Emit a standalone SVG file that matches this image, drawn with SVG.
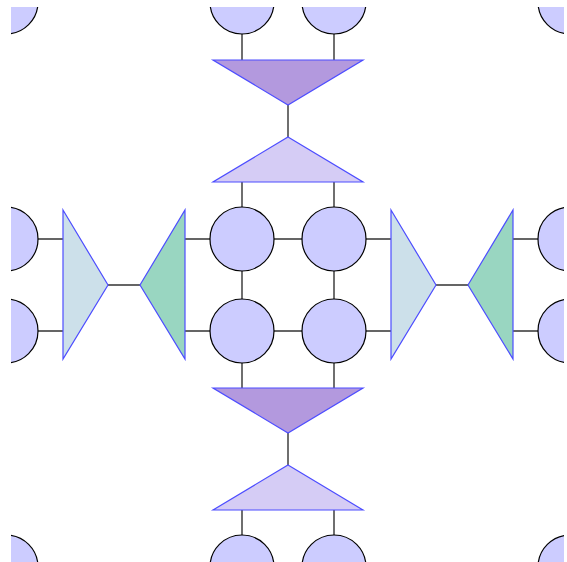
<svg xmlns="http://www.w3.org/2000/svg" width="567" height="562" viewBox="0 0 567 562">
<style>
.c{fill:#ccccff;stroke:#000;stroke-width:1.2}
.t{stroke:#4d4dff;stroke-width:1.2;stroke-linejoin:miter}
.dn{fill:#b399de}
.up{fill:#d5ccf5}
.rt{fill:#cce0ea}
.lf{fill:#99d6c1}
.e{stroke:#333;stroke-width:1.4;fill:none}
</style>
<defs>
<clipPath id="clip"><rect x="11" y="7" width="553" height="555"/></clipPath>
</defs>
<rect width="567" height="562" fill="#fff"/>
<g clip-path="url(#clip)">
<g id="edges">
<path class="e" d="M242 2V60M334 2V60M288 105V137M242 182V239M334 182V239"/>
<path class="e" d="M242 331V388M334 331V388M288 433V465M242 510V567M334 510V567"/>
<path class="e" d="M6 239H63M6 331H63M108 285H140M185 239H242M185 331H242"/>
<path class="e" d="M334 239H391M334 331H391M436 285H468M513 239H570M513 331H570"/>
<path class="e" d="M242 239H334M242 331H334M242 239V331M334 239V331"/>
</g>
<g id="n_tl"><circle class="c" cx="6" cy="2" r="32"/></g>
<g id="n_tr"><circle class="c" cx="570" cy="2" r="32"/></g>
<g id="n_bl"><circle class="c" cx="6" cy="567" r="32"/></g>
<g id="n_br"><circle class="c" cx="570" cy="567" r="32"/></g>
<g id="n_t1"><circle class="c" cx="242" cy="2" r="32"/></g>
<g id="n_t2"><circle class="c" cx="334" cy="2" r="32"/></g>
<g id="n_b1"><circle class="c" cx="242" cy="567" r="32"/></g>
<g id="n_b2"><circle class="c" cx="334" cy="567" r="32"/></g>
<g id="n_l1"><circle class="c" cx="6" cy="239" r="32"/></g>
<g id="n_l2"><circle class="c" cx="6" cy="331" r="32"/></g>
<g id="n_r1"><circle class="c" cx="570" cy="239" r="32"/></g>
<g id="n_r2"><circle class="c" cx="570" cy="331" r="32"/></g>
<g id="n_c11"><circle class="c" cx="242" cy="239" r="32"/></g>
<g id="n_c12"><circle class="c" cx="334" cy="239" r="32"/></g>
<g id="n_c21"><circle class="c" cx="242" cy="331" r="32"/></g>
<g id="n_c22"><circle class="c" cx="334" cy="331" r="32"/></g>
<g id="tri_top_down"><polygon class="t dn" points="213,60 363,60 288,105"/></g>
<g id="tri_top_up"><polygon class="t up" points="288,137 363,182 213,182"/></g>
<g id="tri_bot_down"><polygon class="t dn" points="213,388 363,388 288,433"/></g>
<g id="tri_bot_up"><polygon class="t up" points="288,465 363,510 213,510"/></g>
<g id="tri_left_r"><polygon class="t rt" points="63,210 108,285 63,359"/></g>
<g id="tri_left_l"><polygon class="t lf" points="185,210 185,359 140,285"/></g>
<g id="tri_right_r"><polygon class="t rt" points="391,210 436,285 391,359"/></g>
<g id="tri_right_l"><polygon class="t lf" points="513,210 513,359 468,285"/></g>
</g>
</svg>
